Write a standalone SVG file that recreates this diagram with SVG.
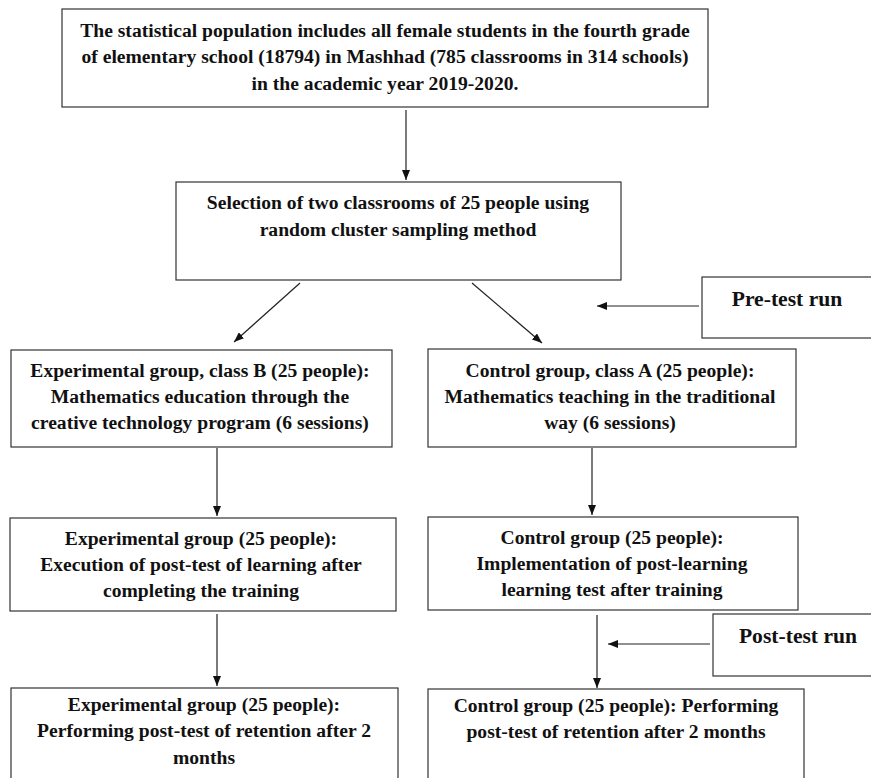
<svg xmlns="http://www.w3.org/2000/svg" width="871" height="778" viewBox="0 0 871 778">
<style>
.box{fill:#fff;stroke:#333;stroke-width:1.2}
.t{font-family:"Liberation Serif","Times New Roman",serif;font-weight:bold;font-size:19.6px;fill:#111;text-anchor:middle}
.l{font-size:21.6px}
.c{stroke:#222;stroke-width:1.2;fill:none;marker-end:url(#ah)}
</style>
<defs>
<marker id="ah" markerWidth="10" markerHeight="8" refX="10" refY="4" orient="auto" markerUnits="userSpaceOnUse">
<path d="M0,0 L10,4 L0,8 Z" fill="#111"/>
</marker>
</defs>
<rect width="871" height="778" fill="#fff"/>
<g id="connectors">
<line class="c" x1="406" y1="110" x2="406" y2="180"/>
<line class="c" x1="300" y1="283" x2="234" y2="342"/>
<line class="c" x1="472" y1="283" x2="542" y2="343"/>
<line class="c" x1="699" y1="306" x2="597" y2="306"/>
<line class="c" x1="217" y1="448" x2="217" y2="516"/>
<line class="c" x1="592" y1="448" x2="592" y2="515"/>
<line class="c" x1="217" y1="614" x2="217" y2="686"/>
<line class="c" x1="597" y1="615" x2="597" y2="688"/>
<line class="c" x1="710" y1="644" x2="608" y2="644"/>
</g>
<g id="n1">
<rect class="box" x="62" y="9" width="646" height="98"/>
<text class="t" x="385" y="37">The statistical population includes all female students in the fourth grade</text>
<text class="t" x="385" y="63">of elementary school (18794) in Mashhad (785 classrooms in 314 schools)</text>
<text class="t" x="385" y="90">in the academic year 2019-2020.</text>
</g>
<g id="n2">
<rect class="box" x="176" y="182" width="445" height="98"/>
<text class="t" x="398" y="209">Selection of two classrooms of 25 people using</text>
<text class="t" x="398" y="236">random cluster sampling method</text>
</g>
<g id="pre">
<rect class="box" x="702" y="277" width="175" height="61"/>
<text class="t l" x="787" y="306">Pre-test run</text>
</g>
<g id="n3">
<rect class="box" x="11" y="350" width="381" height="97"/>
<text class="t" x="200" y="377">Experimental group, class B (25 people):</text>
<text class="t" x="200" y="403">Mathematics education through the</text>
<text class="t" x="200" y="429">creative technology program (6 sessions)</text>
</g>
<g id="n4">
<rect class="box" x="428" y="349" width="368" height="98"/>
<text class="t" x="610" y="377">Control group, class A (25 people):</text>
<text class="t" x="610" y="403">Mathematics teaching in the traditional</text>
<text class="t" x="610" y="429">way (6 sessions)</text>
</g>
<g id="n5">
<rect class="box" x="10" y="518" width="386" height="93"/>
<text class="t" x="201" y="545">Experimental group (25 people):</text>
<text class="t" x="201" y="571">Execution of post-test of learning after</text>
<text class="t" x="201" y="597">completing the training</text>
</g>
<g id="n6">
<rect class="box" x="428" y="517" width="370" height="93"/>
<text class="t" x="612" y="544">Control group (25 people):</text>
<text class="t" x="612" y="570">Implementation of post-learning</text>
<text class="t" x="612" y="596">learning test after training</text>
</g>
<g id="post">
<rect class="box" x="713" y="614" width="165" height="62"/>
<text class="t l" x="798" y="643">Post-test run</text>
</g>
<g id="n7">
<rect class="box" x="11" y="688" width="387" height="100"/>
<text class="t" x="204" y="711">Experimental group (25 people):</text>
<text class="t" x="204" y="737">Performing post-test of retention after 2</text>
<text class="t" x="204" y="764">months</text>
</g>
<g id="n8">
<rect class="box" x="428" y="689" width="376" height="100"/>
<text class="t" x="616" y="712">Control group (25 people): Performing</text>
<text class="t" x="616" y="738">post-test of retention after 2 months</text>
</g>
</svg>
